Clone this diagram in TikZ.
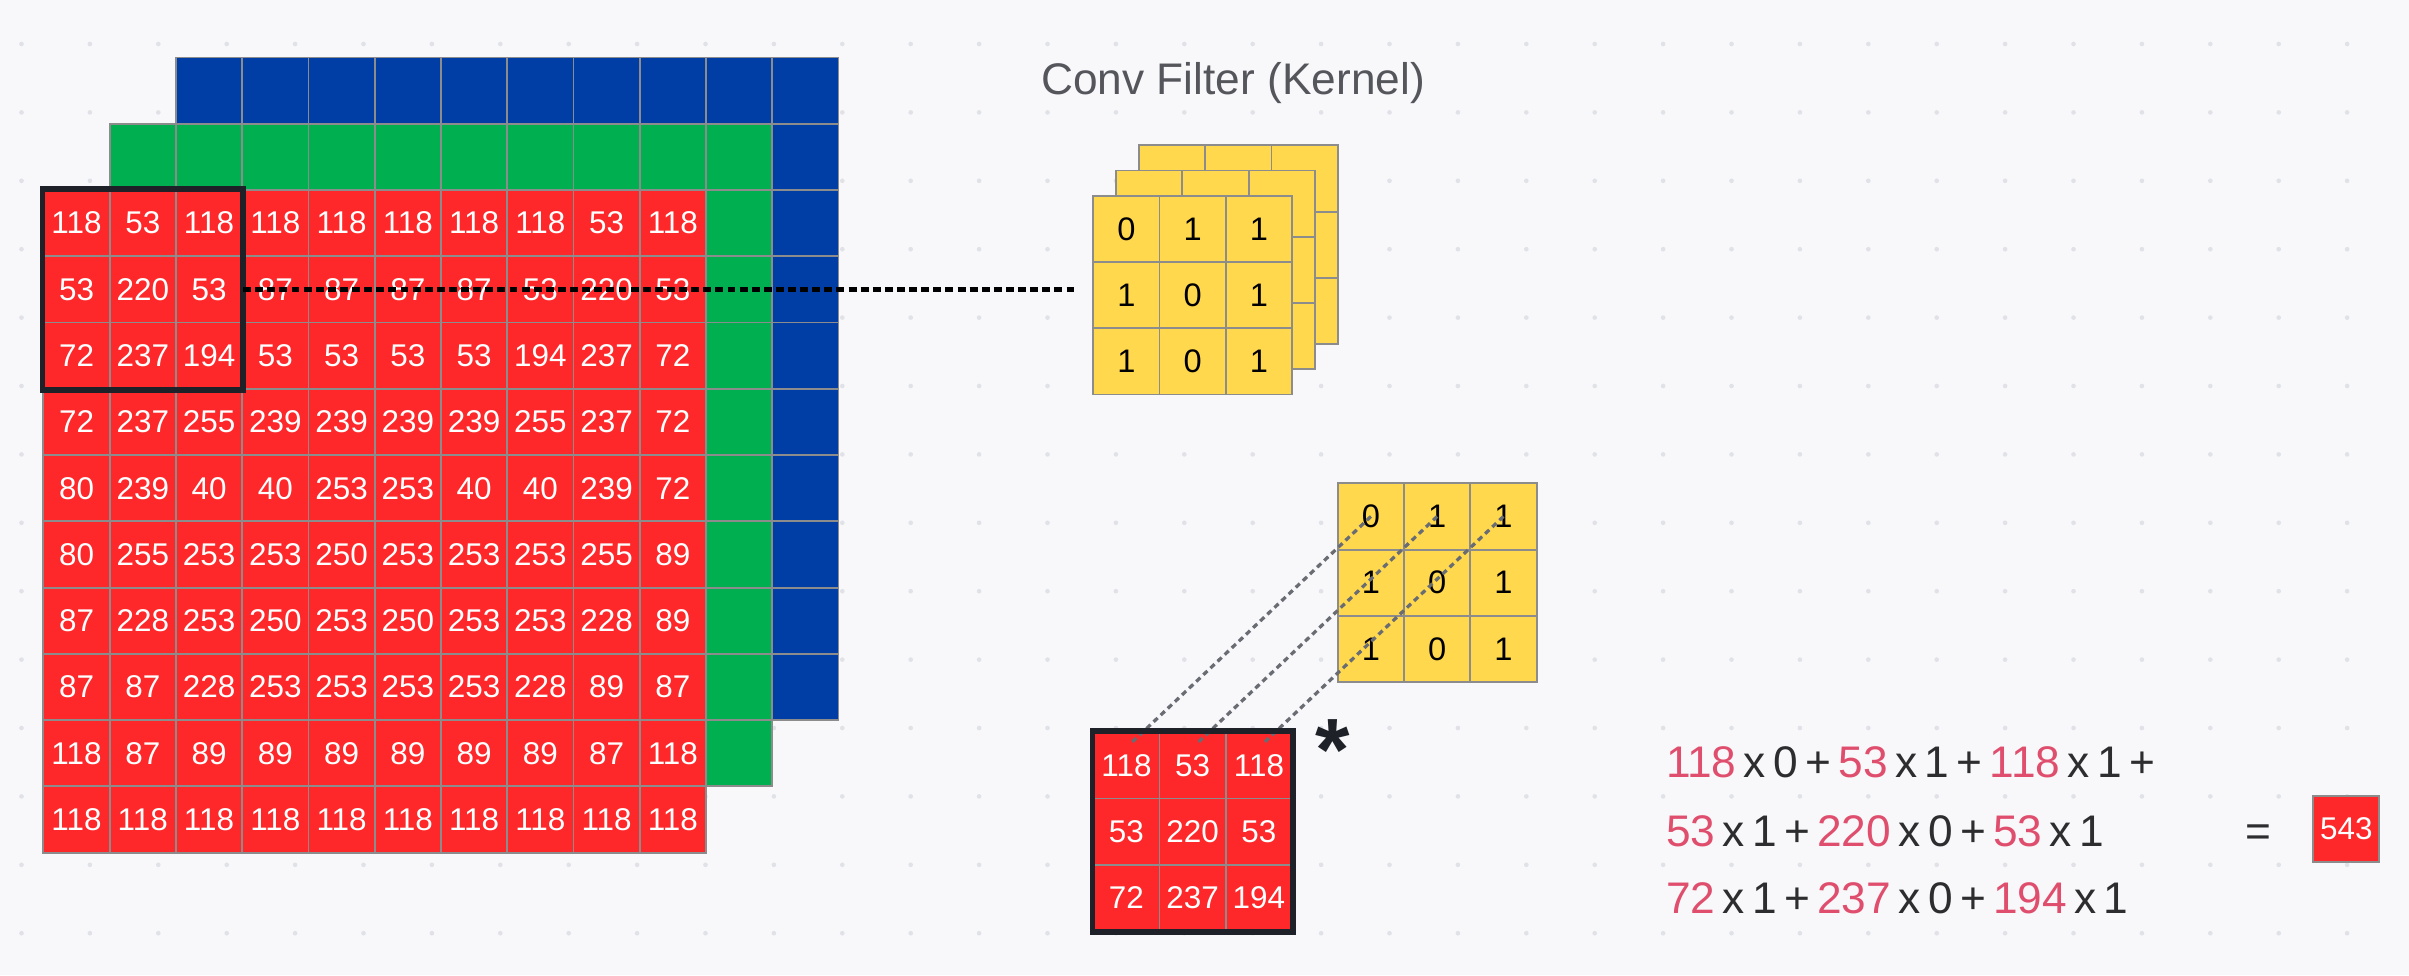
\documentclass[tikz,border=0pt]{standalone}
\usepackage{fontspec}
\setmainfont{Liberation Sans}
\usepackage{xcolor}
\usepackage{tikz}
\usetikzlibrary{calc}
\definecolor{pagebg}{RGB}{248,248,250}
\definecolor{dotgray}{RGB}{224,226,231}
\definecolor{cellgray}{RGB}{140,140,140}
\definecolor{pixred}{RGB}{254,40,42}
\definecolor{pixgreen}{RGB}{0,176,80}
\definecolor{pixblue}{RGB}{0,62,165}
\definecolor{kernelyellow}{RGB}{255,216,77}
\definecolor{framedark}{RGB}{30,34,40}
\definecolor{titlegray}{RGB}{85,86,92}
\definecolor{numpink}{RGB}{224,78,110}
\definecolor{opgray}{RGB}{45,45,48}
\definecolor{linkgray}{RGB}{105,108,115}
\newcommand{\pv}[1]{\textcolor{numpink}{#1}}

\begin{document}
\begin{tikzpicture}[
    pixel/.style={draw=cellgray, line width=0.8pt, minimum size=1cm, inner sep=0pt, text=white, font=\fontsize{13.5}{15}\selectfont},
    redpix/.style={pixel, fill=pixred},
    greenpix/.style={pixel, fill=pixgreen},
    bluepix/.style={pixel, fill=pixblue},
    kpix/.style={pixel, fill=kernelyellow, text=black, font=\fontsize{14}{16}\selectfont},
    hilite/.style={draw=framedark, line width=2.4pt},
    dotline/.style={black, line width=2.4pt, dash pattern=on 3.4pt off 1.8pt},
    linkline/.style={draw=linkgray, line width=1.4pt, dash pattern=on 2.4pt off 1.8pt},
    sumtext/.style={anchor=base west, text=opgray, font=\fontsize{19}{22}\selectfont}
]
    % page with dotted backdrop
    \fill[pagebg] (0,0) rectangle (36.357,-14.715);
    \useasboundingbox (0,0) rectangle (36.357,-14.715);
    \foreach \i in {0,...,34}
        \foreach \j in {0,...,13}
            \fill[dotgray] (0.3245+1.0323*\i,-0.664-1.0323*\j) circle (0.035);

    % input image: blue, green and red channels
    \foreach \i in {1,...,10}
        \foreach \j in {1,...,10}
            \node[bluepix] (b-\i-\j) at (2.155+\j,-0.368-\i) {};
    \foreach \i in {1,...,10}
        \foreach \j in {1,...,10}
            \node[greenpix] (g-\i-\j) at (1.155+\j,-1.368-\i) {};
    \foreach \row [count=\i] in {{118,53,118,118,118,118,118,118,53,118},
        {53,220,53,87,87,87,87,53,220,53},
        {72,237,194,53,53,53,53,194,237,72},
        {72,237,255,239,239,239,239,255,237,72},
        {80,239,40,40,253,253,40,40,239,72},
        {80,255,253,253,250,253,253,253,255,89},
        {87,228,253,250,253,250,253,253,228,89},
        {87,87,228,253,253,253,253,228,89,87},
        {118,87,89,89,89,89,89,89,87,118},
        {118,118,118,118,118,118,118,118,118,118}}
        \foreach \v [count=\j] in \row
            \node[redpix] (r-\i-\j) at (0.155+\j,-2.368-\i) {\v};

    \draw[hilite] (r-1-1.north west) rectangle (r-3-3.south east);
    \coordinate (dotend) at (16.27,-4.368);
    \draw[dotline] (r-2-3.east) -- (dotend);

    % kernel stack
    \node[anchor=base, text=titlegray, font=\fontsize{19}{22}\selectfont] (title) at (18.61,-1.43) {Conv Filter (Kernel)};
    \foreach \dx/\dy/\nm in {0.69/0.76/kb, 0.345/0.38/km}
        \foreach \i in {1,2,3}
            \foreach \j in {1,2,3}
                \node[kpix] (\nm-\i-\j) at (16+\j+\dx,-2.454-\i+\dy) {};
    \foreach \row [count=\i] in {{0,1,1},{1,0,1},{1,0,1}}
        \foreach \v [count=\j] in \row
            \node[kpix] (k-\i-\j) at (16+\j,-2.454-\i) {\v};

    % single kernel and patch
    \foreach \row [count=\i] in {{0,1,1},{1,0,1},{1,0,1}}
        \foreach \v [count=\j] in \row
            \node[kpix] (q-\i-\j) at (19.69+\j,-6.794-\i) {\v};
    \foreach \row [count=\i] in {{118,53,118},{53,220,53},{72,237,194}}
        \foreach \v [count=\j] in \row
            \node[redpix] (s-\i-\j) at (16+\j,-10.55-\i) {\v};
    \foreach \j in {1,2,3}
        \draw[linkline] (q-1-\j.center) -- ($(s-1-\j.north)+(0.09,-0.16)$);
    \draw[hilite] (s-1-1.north west) rectangle (s-3-3.south east);
    \node[anchor=base, text=framedark, font=\bfseries\fontsize{38}{40}\selectfont] (star) at (20.12,-11.78) {*};

    % weighted sum
    \node[sumtext] (sum1) at (25.02,-11.74) {\pv{118}\,x\,0\,+\,\pv{53}\,x\,1\,+\,\pv{118}\,x\,1\,+};
    \node[sumtext] (sum2) at (25.02,-12.77) {\pv{53}\,x\,1\,+\,\pv{220}\,x\,0\,+\,\pv{53}\,x\,1};
    \node[sumtext] (sum3) at (25.02,-13.78) {\pv{72}\,x\,1\,+\,\pv{237}\,x\,0\,+\,\pv{194}\,x\,1};
    \node[anchor=base, text=opgray, font=\fontsize{19}{22}\selectfont] (eq) at (34.08,-12.78) {=};
    \node[redpix, font=\fontsize{13.5}{15}\selectfont] (result) at (35.41,-12.51) {543};
\end{tikzpicture}
\end{document}
